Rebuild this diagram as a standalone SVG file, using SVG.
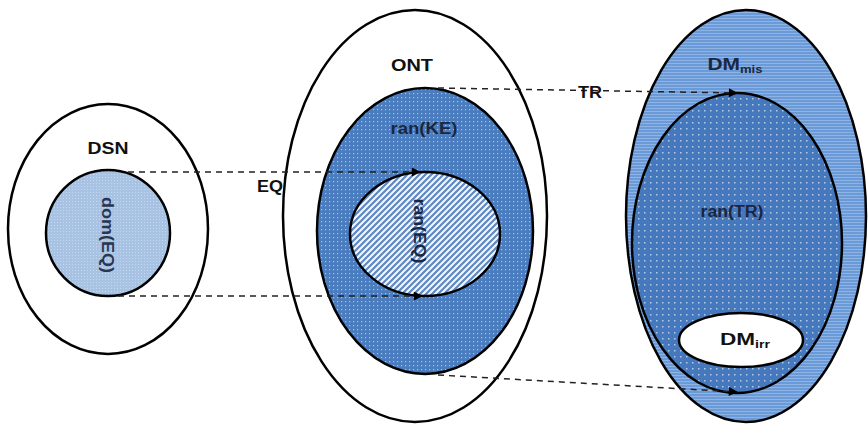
<svg xmlns="http://www.w3.org/2000/svg" width="868" height="427" viewBox="0 0 868 427">
<style>
.ol{stroke:#000;stroke-width:2.5;}
.lbl{font-family:"Liberation Sans",Arial,sans-serif;font-weight:bold;font-size:16px;fill:#111;text-anchor:middle;}
.sub{font-size:10px;}
.con{stroke:#222;stroke-width:1.5;stroke-dasharray:6 5;fill:none;}
</style>
<defs>
<pattern id="pDom" width="3" height="3" patternUnits="userSpaceOnUse">
<rect width="3" height="3" fill="#a8c2e4"/><rect width="1" height="1" fill="#c6d8ee"/>
</pattern>
<pattern id="pKE" width="4" height="4" patternUnits="userSpaceOnUse">
<rect width="4" height="4" fill="#4a7dc0"/><rect x="1" y="1" width="1.2" height="1.2" fill="#a9c3e6"/>
</pattern>
<pattern id="pEQ" width="6" height="6" patternUnits="userSpaceOnUse">
<rect width="6" height="6" fill="#f4f8fd"/>
<path d="M-1,7 L7,-1 M-4,4 L4,-4 M2,10 L10,2" stroke="#5d88c6" stroke-width="2.2"/>
</pattern>
<pattern id="pMis" width="3" height="3" patternUnits="userSpaceOnUse">
<rect width="3" height="3" fill="#6a9bd8"/><rect width="3" height="1" fill="#8fb3e3"/>
</pattern>
<pattern id="pTR" width="6" height="6" patternUnits="userSpaceOnUse">
<rect width="6" height="6" fill="#4678bd"/><rect x="2" y="2" width="1.5" height="1.5" fill="#b4cbea"/>
</pattern>
<marker id="arr" viewBox="0 0 10 10" refX="9" refY="5" markerWidth="11" markerHeight="9" markerUnits="userSpaceOnUse" orient="auto">
<path d="M0,0 L10,5 L0,10 z" fill="#000"/>
</marker>
</defs>

<g id="DSN">
<ellipse cx="108" cy="229" rx="100" ry="125" fill="#fff" class="ol"/>
<text class="lbl" x="108" y="154" textLength="41" lengthAdjust="spacingAndGlyphs">DSN</text>
</g>
<g id="domEQ">
<ellipse cx="108" cy="233" rx="62" ry="63" fill="url(#pDom)" class="ol"/>
<text class="lbl" transform="translate(102,235) rotate(90)" x="0" y="0" textLength="76" lengthAdjust="spacingAndGlyphs" style="fill:#2a3550">dom(EQ)</text>
</g>

<g id="ONT">
<ellipse cx="415" cy="216" rx="132" ry="206" fill="#fff" class="ol"/>
<text class="lbl" x="412" y="71" textLength="42" lengthAdjust="spacingAndGlyphs">ONT</text>
</g>
<g id="ranKE">
<ellipse cx="425" cy="231" rx="108" ry="143" fill="url(#pKE)" class="ol"/>
<text class="lbl" x="424" y="134" textLength="67" lengthAdjust="spacingAndGlyphs" style="fill:#1b2640">ran(KE)</text>
</g>
<g id="ranEQ">
<ellipse cx="425" cy="234" rx="75" ry="62" fill="url(#pEQ)" class="ol"/>
<text class="lbl" transform="translate(414,231) rotate(90)" x="0" y="0" textLength="65" lengthAdjust="spacingAndGlyphs" style="fill:#1b2640">ran(EQ)</text>
</g>

<g id="DMmis">
<ellipse cx="746" cy="216" rx="120" ry="206" fill="url(#pMis)" class="ol"/>
<text class="lbl" x="735" y="70" textLength="55" lengthAdjust="spacingAndGlyphs" style="fill:#1b2640">DM<tspan class="sub" dy="3">mis</tspan></text>
</g>
<g id="ranTR">
<ellipse cx="737" cy="243" rx="105" ry="150" fill="url(#pTR)" class="ol"/>
<text class="lbl" x="732" y="217" textLength="63" lengthAdjust="spacingAndGlyphs" style="fill:#1b2640">ran(TR)</text>
</g>
<g id="DMirr">
<ellipse cx="741" cy="340" rx="62" ry="27" fill="#fff" class="ol"/>
<text class="lbl" x="745" y="345" textLength="50" lengthAdjust="spacingAndGlyphs">DM<tspan class="sub" dy="3">irr</tspan></text>
</g>

<g id="connectors">
<line class="con" x1="128" y1="172" x2="420" y2="172" marker-end="url(#arr)"/>
<line class="con" x1="118" y1="296" x2="422" y2="296" marker-end="url(#arr)"/>
<line class="con" x1="438" y1="88" x2="737" y2="93" marker-end="url(#arr)"/>
<line class="con" x1="438" y1="375" x2="737" y2="392" marker-end="url(#arr)"/>
<text class="lbl" x="270" y="192" textLength="26" lengthAdjust="spacingAndGlyphs">EQ</text>
<text class="lbl" x="590" y="98" textLength="24" lengthAdjust="spacingAndGlyphs">TR</text>
</g>
</svg>
